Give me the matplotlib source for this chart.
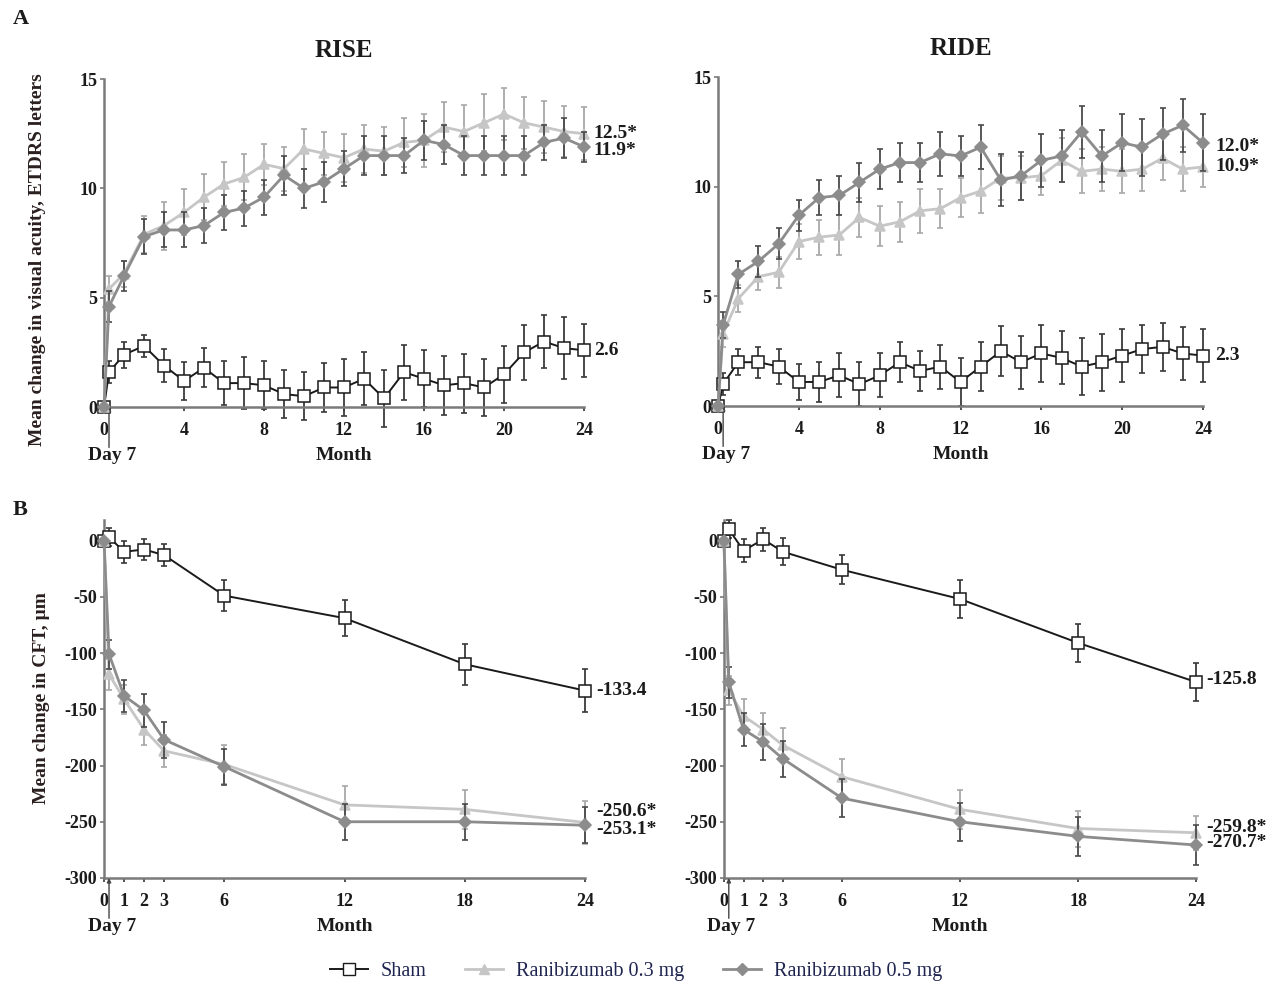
import matplotlib
matplotlib.use("Agg")
import matplotlib.pyplot as plt
from matplotlib.lines import Line2D

plt.rcParams["font.family"] = ["Liberation Serif", "DejaVu Serif"]
plt.rcParams["axes.unicode_minus"] = False

# visit schedule (Day 7 sits just after baseline)
va_months = [0, 0.25, 1, 2, 3, 4, 5, 6, 7, 8, 9, 10, 11, 12,
             13, 14, 15, 16, 17, 18, 19, 20, 21, 22, 23, 24]
cft_months = [0, 0.25, 1, 2, 3, 6, 12, 18, 24]

# BCVA change, ETDRS letters
rise_va_sham = [0, 1.6, 2.4, 2.8, 1.9, 1.2, 1.8, 1.1, 1.1, 1.0, 0.6, 0.5, 0.9,
                0.9, 1.3, 0.4, 1.6, 1.3, 1.0, 1.1, 0.9, 1.5, 2.5, 3.0, 2.7, 2.6]
rise_va_sham_err = [0, 0.5, 0.6, 0.5, 0.75, 0.85, 0.9, 1.0, 1.2, 1.1, 1.1, 1.1,
                    1.1, 1.3, 1.2, 1.3, 1.25, 1.3, 1.35, 1.35, 1.3, 1.3, 1.25,
                    1.2, 1.4, 1.2]
rise_va_03 = [0, 5.4, 6.1, 7.9, 8.3, 8.9, 9.6, 10.2, 10.5, 11.1, 10.9, 11.8,
              11.6, 11.4, 11.8, 11.7, 12.1, 12.2, 12.8, 12.6, 13.0, 13.4, 13.0,
              12.8, 12.6, 12.5]
rise_va_03_err = [0, 0.6, 0.6, 0.85, 1.1, 1.05, 1.05, 1.0, 1.05, 0.95, 1.0,
                  0.9, 1.0, 1.1, 1.1, 1.1, 1.1, 1.2, 1.15, 1.2, 1.3, 1.2, 1.2,
                  1.2, 1.15, 1.2]
rise_va_05 = [0, 4.6, 6.0, 7.8, 8.1, 8.1, 8.3, 8.9, 9.1, 9.6, 10.6, 10.0, 10.3,
              10.9, 11.5, 11.5, 11.5, 12.2, 12.0, 11.5, 11.5, 11.5, 11.5, 12.1,
              12.3, 11.9]
rise_va_05_err = [0, 0.7, 0.7, 0.8, 0.8, 0.8, 0.8, 0.8, 0.8, 0.8, 0.9, 0.9,
                  0.9, 0.8, 0.9, 0.9, 0.8, 0.9, 0.9, 0.9, 0.9, 0.9, 0.9, 0.8,
                  0.9, 0.7]

ride_va_sham = [0, 1.0, 2.0, 2.0, 1.8, 1.1, 1.1, 1.4, 1.0, 1.4, 2.0, 1.6, 1.8,
                1.1, 1.8, 2.5, 2.0, 2.4, 2.2, 1.8, 2.0, 2.3, 2.6, 2.7, 2.4, 2.3]
ride_va_sham_err = [0, 0.5, 0.6, 0.7, 0.8, 0.8, 0.9, 1.0, 1.0, 1.0, 0.9, 0.9,
                    1.0, 1.1, 1.1, 1.15, 1.2, 1.3, 1.2, 1.3, 1.3, 1.2, 1.1, 1.1,
                    1.2, 1.2]
ride_va_03 = [0, 3.3, 4.9, 5.9, 6.1, 7.5, 7.7, 7.8, 8.6, 8.2, 8.4, 8.9, 9.0,
              9.5, 9.8, 10.4, 10.4, 10.5, 11.2, 10.7, 10.8, 10.7, 10.8, 11.3,
              10.8, 10.9]
ride_va_03_err = [0, 0.6, 0.6, 0.6, 0.7, 0.8, 0.8, 0.9, 0.9, 0.9, 0.9, 1.0,
                  0.9, 0.9, 1.0, 1.0, 1.0, 0.9, 1.0, 1.0, 1.0, 1.0, 1.0, 1.0,
                  1.0, 0.9]
ride_va_05 = [0, 3.7, 6.0, 6.6, 7.4, 8.7, 9.5, 9.6, 10.2, 10.8, 11.1, 11.1,
              11.5, 11.4, 11.8, 10.3, 10.5, 11.2, 11.4, 12.5, 11.4, 12.0, 11.8,
              12.4, 12.8, 12.0]
ride_va_05_err = [0, 0.6, 0.6, 0.7, 0.7, 0.7, 0.8, 0.9, 0.9, 0.9, 0.9, 0.9,
                  1.0, 0.9, 1.0, 1.2, 1.1, 1.2, 1.2, 1.2, 1.2, 1.3, 1.3, 1.2,
                  1.2, 1.3]

# central foveal thickness change, um
rise_cft_sham = [0, 3, -10, -8, -13, -49, -69, -110, -133.4]
rise_cft_sham_err = [0, 8, 10, 9, 10, 14, 16, 18, 19]
rise_cft_03 = [0, -119, -141, -168, -187, -199, -235, -239, -250.6]
rise_cft_03_err = [0, 14, 13, 14, 14, 17, 17, 17, 19]
rise_cft_05 = [0, -101, -138, -151, -177, -201, -250, -250, -253.1]
rise_cft_05_err = [0, 13, 14, 15, 16, 16, 16, 16, 16]

ride_cft_sham = [0, 10, -9, 1, -10, -26, -52, -91, -125.8]
ride_cft_sham_err = [0, 8, 10, 10, 12, 13, 17, 17, 17]
ride_cft_03 = [0, -133, -156, -168, -182, -210, -239, -256, -259.8]
ride_cft_03_err = [0, 13, 15, 15, 15, 16, 17, 16, 15]
ride_cft_05 = [0, -126, -168, -179, -194, -229, -250, -263, -270.7]
ride_cft_05_err = [0, 14, 15, 16, 16, 17, 17, 17, 18]

va_ticks = [0, 4, 8, 12, 16, 20, 24]
cft_ticks = [0, 1, 2, 3, 6, 12, 18, 24]
group_names = ["Sham", "Ranibizumab 0.3 mg", "Ranibizumab 0.5 mg"]

W, H = 1268, 982
TXT = "#1b1b1b"
AX = "#7a7a7a"
STYLES = {
    "sham": dict(color="#1a1a1a", marker="s", mfc="white", mec="#1a1a1a",
                 ecolor="#3a3a3a", lw=1.4, zorder=3),
    "r03": dict(color="#c6c6c6", marker="^", mfc="#c6c6c6", mec="#c6c6c6",
                ecolor="#a8a8a8", lw=2.0, zorder=4),
    "r05": dict(color="#8c8c8c", marker="D", mfc="#8c8c8c", mec="#8c8c8c",
                ecolor="#4a4a4a", lw=2.0, zorder=5),
}


def px_axes(fig, left, top, right, bottom):
    return fig.add_axes([left / W, 1 - bottom / H, (right - left) / W,
                         (bottom - top) / H])


def draw_series(ax, x, y, err, key, ms):
    st = STYLES[key]
    ax.errorbar(x, y, yerr=err, fmt="none", ecolor=st["ecolor"],
                elinewidth=1.3, capsize=2.5, capthick=1.2,
                zorder=st["zorder"] - 0.5, clip_on=False)
    ax.plot(x, y, color=st["color"], lw=st["lw"], marker=st["marker"],
            ms=ms, mfc=st["mfc"], mec=st["mec"], mew=1.1,
            zorder=st["zorder"], clip_on=False)


def style_axes(ax, xticks, y_floor, y_top, floor_line):
    for s in ("top", "right"):
        ax.spines[s].set_visible(False)
    ax.spines["left"].set_position(("data", 0))
    ax.spines["bottom"].set_position(("data", floor_line))
    ax.spines["left"].set_bounds(y_floor, y_top)
    ax.spines["bottom"].set_bounds(0, 24)
    for s in ("left", "bottom"):
        ax.spines[s].set_color(AX)
        ax.spines[s].set_linewidth(1.8)
    ax.set_xticks(xticks)
    ax.tick_params(axis="x", direction="out", length=3, width=1.2,
                   color="#333333", pad=8, labelsize=13, labelcolor=TXT)
    ax.tick_params(axis="y", direction="out", length=3, width=1.2,
                   color=AX, pad=2, labelsize=13, labelcolor=TXT)
    for lab in ax.get_xticklabels() + ax.get_yticklabels():
        lab.set_fontweight("bold")
    ax.patch.set_alpha(0)

    # Day 7 pointer and axis caption under the month scale
    ax.annotate("", xy=(0.25, floor_line), xytext=(0, -29),
                textcoords="offset points",
                arrowprops=dict(arrowstyle="-|>", color="#444444", lw=1.0,
                                mutation_scale=6, shrinkA=0, shrinkB=0))
    ax.annotate("Day 7", xy=(0.25, floor_line), xytext=(2, -35),
                textcoords="offset points", ha="center", va="center",
                fontsize=14, fontweight="bold", color=TXT)
    ax.annotate("Month", xy=(12, floor_line), xytext=(0, -35),
                textcoords="offset points", ha="center", va="center",
                fontsize=14, fontweight="bold", color=TXT)


def end_label(ax, value, text, dx, dy):
    ax.annotate(text, xy=(24, value), xytext=(dx, dy),
                textcoords="offset points", ha="left", va="center",
                fontsize=14, fontweight="bold", color=TXT)


fig = plt.figure(figsize=(W / 100, H / 100), dpi=100)

# ---- A: visual acuity -------------------------------------------------
va_panels = [
    ("RISE", (96, 79, 592, 440), rise_va_sham, rise_va_sham_err, rise_va_03,
     rise_va_03_err, rise_va_05, rise_va_05_err,
     [(2.6, "2.6", 7, 0), (12.5, "12.5*", 7, 0), (11.9, "11.9*", 7, -3)]),
    ("RIDE", (710, 77, 1211, 439), ride_va_sham, ride_va_sham_err, ride_va_03,
     ride_va_03_err, ride_va_05, ride_va_05_err,
     [(2.3, "2.3", 9, 0), (12.0, "12.0*", 9, -3), (10.9, "10.9*", 9, 0)]),
]
for title, rect, sh, she, r3, r3e, r5, r5e, labels in va_panels:
    ax = px_axes(fig, *rect)
    ax.set_xlim(-0.4, 24.4)
    ax.set_ylim(-1.5, 15)
    draw_series(ax, va_months, sh, she, "sham", 8)
    draw_series(ax, va_months, r3, r3e, "r03", 7)
    draw_series(ax, va_months, r5, r5e, "r05", 6)
    ax.set_yticks([0, 5, 10, 15])
    style_axes(ax, va_ticks, 0, 15, 0)
    ax.set_title(title, fontsize=18, fontweight="bold", color=TXT, pad=16)
    for value, text, dx, dy in labels:
        end_label(ax, value, text, dx, dy)
    if title == "RISE":
        ax.set_ylabel("Mean change in visual acuity, ETDRS letters",
                      fontsize=14, fontweight="bold", color="#2a1f1f",
                      labelpad=24)

# ---- B: central foveal thickness -------------------------------------
cft_panels = [
    ("RISE", (96, 518, 593, 878), rise_cft_sham, rise_cft_sham_err, rise_cft_03,
     rise_cft_03_err, rise_cft_05, rise_cft_05_err,
     [(-133.4, "-133.4", 8, 0), (-250.6, "-250.6*", 8, 8),
      (-253.1, "-253.1*", 8, -3)]),
    ("RIDE", (716, 518, 1204, 878), ride_cft_sham, ride_cft_sham_err,
     ride_cft_03, ride_cft_03_err, ride_cft_05, ride_cft_05_err,
     [(-125.8, "-125.8", 7, 2), (-259.8, "-259.8*", 7, 4),
      (-270.7, "-270.7*", 7, 2)]),
]
for title, rect, sh, she, r3, r3e, r5, r5e, labels in cft_panels:
    ax = px_axes(fig, *rect)
    ax.set_xlim(-0.4, 24.4)
    ax.set_ylim(-300, 20)
    draw_series(ax, cft_months, sh, she, "sham", 9)
    draw_series(ax, cft_months, r3, r3e, "r03", 7.5)
    draw_series(ax, cft_months, r5, r5e, "r05", 6.5)
    ax.set_yticks([0, -50, -100, -150, -200, -250, -300])
    style_axes(ax, cft_ticks, -300, 18, -300)
    for value, text, dx, dy in labels:
        end_label(ax, value, text, dx, dy)
    if title == "RISE":
        ax.set_ylabel("Mean change in CFT, \u00b5m", fontsize=14,
                      fontweight="bold", color="#2a1f1f", labelpad=10)

fig.text(13 / W, 1 - 19 / H, "A", fontsize=16, fontweight="bold", color=TXT,
         va="center")
fig.text(13 / W, 1 - 510 / H, "B", fontsize=16, fontweight="bold", color=TXT,
         va="center")

handles = [
    Line2D([], [], color=STYLES["sham"]["color"], marker="s", mfc="white",
           mec="#1a1a1a", ms=8, lw=1.4),
    Line2D([], [], color=STYLES["r03"]["color"], marker="^", ms=7, lw=2.0),
    Line2D([], [], color=STYLES["r05"]["color"], marker="D", ms=6, lw=2.0),
]
leg = fig.legend(handles, group_names, loc="center", ncol=3,
                 bbox_to_anchor=(636 / W, 1 - 971 / H), frameon=False,
                 fontsize=14.5, handlelength=1.9, columnspacing=1.9,
                 handletextpad=0.65)
for t in leg.get_texts():
    t.set_color("#1f2550")

fig.savefig("out.png", dpi=100)
